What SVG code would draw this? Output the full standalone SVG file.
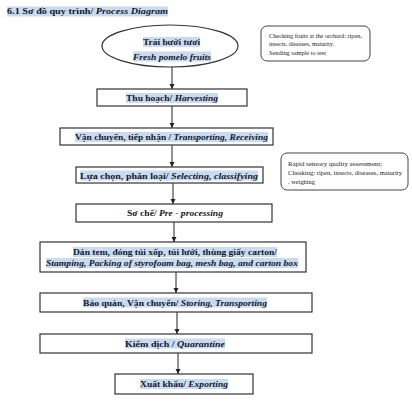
<svg xmlns="http://www.w3.org/2000/svg" width="412" height="405" viewBox="0 0 412 405">
<defs>
<marker id="ah" markerWidth="6" markerHeight="6" refX="5" refY="3" orient="auto" markerUnits="userSpaceOnUse">
<path d="M0,0.5 L5,3 L0,5.5 Z" fill="#222"/>
</marker>
<style>
.bx{fill:#fff;stroke:#333;stroke-width:1.2}
.nt{fill:#fff;stroke:#444;stroke-width:1}
.hl{fill:#c9dcef}
.t{font-family:"Liberation Serif",serif;font-weight:bold;font-size:9px;fill:#15152a}
.i{font-style:italic}
.s{font-family:"Liberation Serif",serif;font-size:6.3px;fill:#222}
.c{stroke:#222;stroke-width:1;fill:none;marker-end:url(#ah)}
</style>
</defs>
<rect width="412" height="405" fill="#fff"/>
<g id="title">
<rect class="hl" x="7" y="6.5" width="161" height="10"/>
<text class="t" x="7" y="14" textLength="161" lengthAdjust="spacingAndGlyphs">6.1 Sơ đồ quy trình/ <tspan class="i">Process Diagram</tspan></text>
</g>
<g id="connectors">
<line class="c" x1="172" y1="67" x2="172" y2="89"/>
<line class="c" x1="172" y1="106" x2="172" y2="128"/>
<line class="c" x1="172" y1="145" x2="172" y2="167"/>
<line class="c" x1="173" y1="183" x2="173" y2="204"/>
<line class="c" x1="174" y1="222" x2="174" y2="242"/>
<line class="c" x1="176" y1="272" x2="176" y2="293"/>
<line class="c" x1="177" y1="312" x2="177" y2="334"/>
<line class="c" x1="178" y1="353" x2="178" y2="374"/>
</g>
<g id="n0">
<ellipse class="bx" cx="170" cy="46" rx="68" ry="21"/>
<rect class="hl" x="143" y="37" width="57" height="10"/>
<rect class="hl" x="133" y="51.5" width="78" height="10"/>
<text class="t" x="143" y="45" textLength="57" lengthAdjust="spacingAndGlyphs">Trái bưởi tươi</text>
<text class="t i" x="133" y="59.5" textLength="78" lengthAdjust="spacingAndGlyphs">Fresh pomelo fruits</text>
</g>
<g id="note1">
<rect class="nt" x="261" y="26" width="109" height="35" rx="6"/>
<text class="s" x="269" y="38" textLength="93" lengthAdjust="spacingAndGlyphs">Checking fruits  at the orchard: ripen,</text>
<text class="s" x="269" y="46" textLength="65" lengthAdjust="spacingAndGlyphs">insects, diseases, maturity.</text>
<text class="s" x="269" y="54.5" textLength="57" lengthAdjust="spacingAndGlyphs">Sending sample to test</text>
</g>
<g id="n1">
<rect class="bx" x="97" y="89" width="150" height="17"/>
<rect class="hl" x="126" y="93" width="92" height="10"/>
<text class="t" x="126" y="101" textLength="92" lengthAdjust="spacingAndGlyphs">Thu hoạch/ <tspan class="i">Harvesting</tspan></text>
</g>
<g id="n2">
<rect class="bx" x="60" y="128" width="213" height="17"/>
<rect class="hl" x="75" y="132" width="193" height="10"/>
<text class="t" x="75" y="140" textLength="193" lengthAdjust="spacingAndGlyphs">Vận chuyển, tiếp nhận / <tspan class="i">Transporting, Receiving</tspan></text>
</g>
<g id="n3">
<rect class="bx" x="76" y="167" width="187" height="16"/>
<rect class="hl" x="80" y="170.5" width="178" height="10"/>
<text class="t" x="80" y="178.5" textLength="178" lengthAdjust="spacingAndGlyphs">Lựa chọn, phân loại/ <tspan class="i">Selecting, classifying</tspan></text>
</g>
<g id="note2">
<rect class="nt" x="281" y="153" width="127" height="37" rx="6"/>
<text class="s" x="288" y="166" textLength="94" lengthAdjust="spacingAndGlyphs">Rapid sensory quality assessment;</text>
<text class="s" x="288" y="175" textLength="114" lengthAdjust="spacingAndGlyphs">Cheaking: ripen, insects, diseases, maturity</text>
<text class="s" x="288" y="184" textLength="27" lengthAdjust="spacingAndGlyphs">, weighing</text>
</g>
<g id="n4">
<rect class="bx" x="76" y="204" width="196" height="18"/>
<text class="t" x="127" y="216" textLength="96" lengthAdjust="spacingAndGlyphs">Sơ chế/ <tspan class="i">Pre - processing</tspan></text>
</g>
<g id="n5">
<rect class="bx" x="40" y="242" width="266" height="30"/>
<rect class="hl" x="73" y="247" width="204" height="10"/>
<rect class="hl" x="46" y="258" width="252" height="10"/>
<text class="t" x="73" y="255" textLength="204" lengthAdjust="spacingAndGlyphs">Dán tem, đóng túi xốp, túi lưới, thùng giấy carton/</text>
<text class="t i" x="46" y="266" textLength="252" lengthAdjust="spacingAndGlyphs">Stamping, Packing of styrofoam bag, mesh bag, and carton box</text>
</g>
<g id="n6">
<rect class="bx" x="40" y="293" width="272" height="19"/>
<rect class="hl" x="83" y="297.5" width="184" height="10"/>
<text class="t" x="83" y="305.5" textLength="184" lengthAdjust="spacingAndGlyphs">Bảo quản, Vận chuyển/ <tspan class="i">Storing, Transporting</tspan></text>
</g>
<g id="n7">
<rect class="bx" x="40" y="334" width="272" height="19"/>
<rect class="hl" x="125" y="338.5" width="100" height="10"/>
<text class="t" x="125" y="346.5" textLength="100" lengthAdjust="spacingAndGlyphs">Kiểm dịch / <tspan class="i">Quarantine</tspan></text>
</g>
<g id="n8">
<rect class="bx" x="115" y="374" width="138" height="20"/>
<rect class="hl" x="140" y="379" width="88" height="10"/>
<text class="t" x="140" y="387" textLength="88" lengthAdjust="spacingAndGlyphs">Xuất khẩu/ <tspan class="i">Exporting</tspan></text>
</g>
</svg>
